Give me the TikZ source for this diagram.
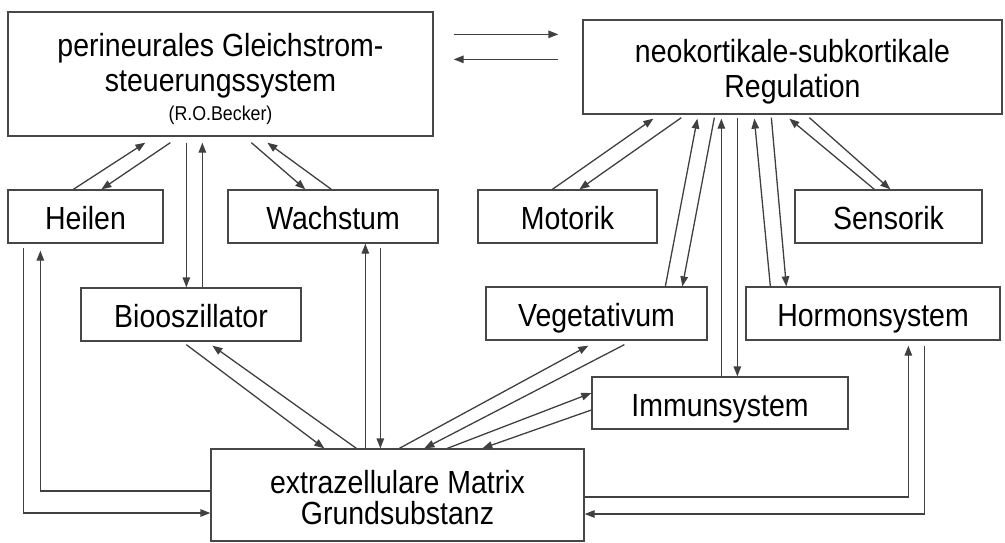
\documentclass[tikz,border=0pt]{standalone}
\usepackage{fontspec}
\setmainfont{Liberation Sans}[FakeStretch=0.89]
\usetikzlibrary{arrows.meta,calc}
\tikzset{
  frame/.style={draw=black!72, line width=1.3pt, inner sep=0pt},
  box/.style={frame, font=\fontsize{32}{35}\selectfont, text height=27pt, text depth=1pt},
  lbl/.style={inner sep=0pt, align=center, font=\fontsize{32}{35}\selectfont},
  link/.style={draw=black!75, line width=1.3pt},
  arr/.style={link, -{Triangle[length=10pt,width=7.5pt]}},
}
\begin{document}
\begin{tikzpicture}[x=1pt,y=-1pt]
\useasboundingbox (0,0) rectangle (1005,542);
% boxes
\node[frame, minimum width=425pt, minimum height=124pt,
  label={[lbl, yshift=-5pt]center:perineurales Gleichstrom-\\steuerungssystem\\[-6pt]{\fontsize{20}{24}\selectfont (R.O.Becker)}}]
  (P) at (220.5,74) {};
\node[frame, minimum width=419pt, minimum height=94pt,
  label={[lbl, yshift=-5pt]center:neokortikale-subkortikale\\Regulation}]
  (N) at (792.5,67) {};
\node[box, minimum width=155pt, minimum height=53pt] (H) at (85.5,216.5) {Heilen};
\node[box, minimum width=210pt, minimum height=53pt] (W) at (333,216.5) {Wachstum};
\node[box, minimum width=179pt, minimum height=53pt] (M) at (567.5,216.5) {Motorik};
\node[box, minimum width=187pt, minimum height=53pt] (S) at (888.5,216.5) {Sensorik};
\node[box, minimum width=220pt, minimum height=53pt] (B) at (191,314.5) {Biooszillator};
\node[box, minimum width=221pt, minimum height=53pt] (V) at (596.5,313.5) {Vegetativum};
\node[box, minimum width=254pt, minimum height=53pt] (Ho) at (873,313.5) {Hormonsystem};
\node[box, minimum width=256pt, minimum height=52pt] (I) at (720,403) {Immunsystem};
\node[frame, minimum width=373pt, minimum height=92pt,
  label={[lbl, yshift=-3pt]center:extrazellulare Matrix\\[-4pt]Grundsubstanz}]
  (X) at (397.5,495) {};
% P <-> N
\draw[arr] ($(P.north east)+(20,23)$) -- ($(N.north west)+(-24,15)$);
\draw[arr] ($(N.north west)+(-24,40)$) -- ($(P.north east)+(20,48)$);
% P <-> Heilen, Biooszillator, Wachstum
\draw[arr] ($(H.north west)+(66,0)$) -- ($(P.south west)+(138,6)$);
\draw[arr] ($(P.south west)+(163,6)$) -- ($(H.north west)+(94,0)$);
\draw[arr] ($(P.south west)+(179,6)$) -- ($(B.north west)+(106,0)$);
\draw[arr] ($(B.north west)+(122,0)$) -- ($(P.south west)+(195,6)$);
\draw[arr] ($(P.south west)+(244,6)$) -- ($(W.north west)+(78,0)$);
\draw[arr] ($(W.north west)+(104,0)$) -- ($(P.south west)+(260,6)$);
% N <-> Motorik, Vegetativum, Immunsystem, Hormonsystem, Sensorik
\draw[arr] ($(M.north west)+(75,0)$) -- ($(N.south west)+(71,4)$);
\draw[arr] ($(N.south west)+(99,3)$) -- ($(M.north west)+(102,0)$);
\draw[arr] ($(V.north west)+(180,0)$) -- ($(N.south west)+(115,4)$);
\draw[arr] ($(N.south west)+(132,3)$) -- ($(V.north west)+(197,0)$);
\draw[arr] ($(I.north west)+(130,0)$) -- ($(N.south west)+(139,4)$);
\draw[arr] ($(N.south west)+(155,3)$) -- ($(I.north west)+(146,0)$);
\draw[arr] ($(Ho.north west)+(25,0)$) -- ($(N.south west)+(172,4)$);
\draw[arr] ($(N.south west)+(189,3)$) -- ($(Ho.north west)+(41,0)$);
\draw[arr] ($(S.north west)+(80,0)$) -- ($(N.south west)+(207,4)$);
\draw[arr] ($(N.south west)+(227,3)$) -- ($(S.north west)+(96,0)$);
% Matrix <-> Biooszillator, Wachstum, Vegetativum, Immunsystem
\draw[arr] ($(B.south west)+(106,3)$) -- ($(X.north west)+(114,0)$);
\draw[arr] ($(X.north west)+(146,0)$) -- ($(B.south west)+(132,4)$);
\draw[arr] ($(X.north west)+(155,0)$) -- ($(W.south west)+(138,0)$);
\draw[arr] ($(W.south west)+(153,4)$) -- ($(X.north west)+(170,0)$);
\draw[arr] ($(X.north west)+(189,0)$) -- ($(V.south west)+(103,5)$);
\draw[arr] ($(V.south west)+(139,4)$) -- ($(X.north west)+(214,0)$);
\draw[arr] ($(X.north west)+(237,0)$) -- ($(I.west)+(0,-10)$);
\draw[arr] ($(I.west)+(0,7)$) -- ($(X.north west)+(272,0)$);
% Matrix <-> Heilen (left loop)
\draw[arr] ($(H.south west)+(16,4)$) |- ($(X.west)+(0,18)$);
\draw[arr] ($(X.west)+(0,-4)$) -| ($(H.south west)+(33,7)$);
% Matrix <-> Hormonsystem (right loop)
\draw[arr] ($(X.east)+(0,2)$) -| ($(Ho.south west)+(163,5)$);
\draw[arr] ($(Ho.south west)+(179,5)$) |- ($(X.east)+(0,19)$);
\end{tikzpicture}
\end{document}
